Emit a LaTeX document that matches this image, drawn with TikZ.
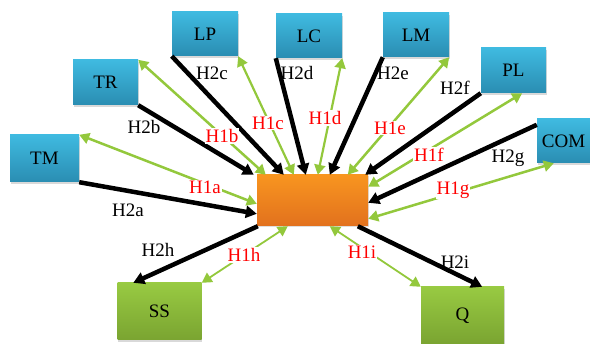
\documentclass[tikz,border=0pt]{standalone}
\usepackage{fontspec}
\setmainfont{Liberation Serif}
\usetikzlibrary{arrows.meta,shadows}

\definecolor{blueT}{HTML}{3FBAE0}
\definecolor{blueB}{HTML}{2A8DB2}
\definecolor{greenT}{HTML}{98CA42}
\definecolor{greenB}{HTML}{7AA431}
\definecolor{orangeT}{HTML}{F8951F}
\definecolor{orangeB}{HTML}{E2711E}
\definecolor{arrgreen}{HTML}{93C83C}

\begin{document}
\begin{tikzpicture}[x=1pt, y=-1pt,
  every node/.style={font=\fontsize{19}{22}\selectfont},
  bluebox/.style={minimum width=66pt, minimum height=44pt, inner sep=0pt,
    top color=blueT, bottom color=blueB,
    drop shadow={shadow xshift=.5pt, shadow yshift=-2pt, opacity=.3}},
  greenbox/.style={minimum width=84pt, minimum height=57pt, inner sep=0pt,
    top color=greenT, bottom color=greenB,
    drop shadow={shadow xshift=.5pt, shadow yshift=-2pt, opacity=.3}},
  h2/.style={line width=4.5pt, black, -{Triangle[length=11pt,width=12pt]}},
  h1/.style={line width=2.5pt, arrgreen,
    {Triangle[length=10pt,width=11pt]}-{Triangle[length=10pt,width=11pt]}},
  lab/.style={inner sep=1pt},
  hlab/.style={inner sep=1pt, text=red, fill=white}]

  \useasboundingbox (0,0) rectangle (590,344);

  % 中央
  \node[minimum width=111pt, minimum height=51pt, inner sep=0pt,
    top color=orangeT, bottom color=orangeB,
    drop shadow={shadow xshift=.5pt, shadow yshift=-1.5pt, opacity=.25}] (X) at (312.5,200.5) {};

  % 上の箱
  \node[bluebox, minimum width=69pt, minimum height=47pt] (TM) at (44.5,158.5) {TM};
  \node[bluebox, minimum width=65pt, minimum height=45pt] (TR) at (105.5,82.5) {TR};
  \node[bluebox] (LP) at (205,34) {LP};
  \node[bluebox] (LC) at (309,36) {LC};
  \node[bluebox] (LM) at (416,35) {LM};
  \node[bluebox, minimum width=65pt, minimum height=45pt] (PL) at (513.5,70.5) {PL};
  \node[bluebox, minimum width=53pt] (COM) at (563.5,141) {COM};

  % 下の箱
  \node[greenbox] (SS) at (159.5,311.5) {SS};
  \node[greenbox, minimum width=83pt] (Q) at (462.5,315.5) {Q};

  % H1 (両矢印)
  \draw[h1] (TM.north east) -- ([yshift=-29pt]X.north west);
  \draw[h1] (TR.north east) -- ([xshift=9pt]X.north west);
  \draw[h1, line width=2.2pt] (LP.south east) -- ([xshift=37pt]X.north west);
  \draw[h1, line width=2.2pt] (LC.south east) -- ([xshift=61pt]X.north west);
  \draw[h1] (LM.south east) -- ([xshift=91pt]X.north west);
  \draw[h1] ([xshift=-24pt]PL.south east) -- ([yshift=-12pt]X.north east);
  \draw[h1] ([xshift=17pt]COM.south west) -- ([yshift=-44pt]X.north east);
  \draw[h1, line width=1.8pt] ([xshift=31pt]X.south west) -- (SS.north east);
  \draw[h1, line width=1.8pt] ([xshift=73pt]X.south west) -- (Q.north west);

  % H2 (黒矢印)
  \draw[h2] (TM.south east) -- ([yshift=-39pt]X.north west);
  \draw[h2] (TR.south east) -- ([xshift=-3pt]X.north west);
  \draw[h2] (LP.south west) -- ([xshift=27pt]X.north west);
  \draw[h2] (LC.south west) -- ([xshift=49pt]X.north west);
  \draw[h2] (LM.south west) -- ([xshift=73pt]X.north west);
  \draw[h2] (PL.south west) -- ([xshift=-3pt]X.north east);
  \draw[h2] ([yshift=-6pt]COM.north west) -- ([yshift=-28pt]X.north east);
  \draw[h2] ([xshift=1pt]X.south west) -- ([xshift=16pt]SS.north west);
  \draw[h2] ([xshift=101pt]X.south west) -- ([xshift=-22pt]Q.north east);

  % ラベル
  \node[hlab] (H1a) at (205,187) {H1a};
  \node[hlab] (H1b) at (222,136) {H1b};
  \node[hlab] (H1c) at (268,123) {H1c};
  \node[hlab] (H1d) at (325,118) {H1d};
  \node[hlab] (H1e) at (390,128) {H1e};
  \node[hlab] (H1f) at (429,155) {H1f};
  \node[hlab] (H1g) at (453,190) {H1g};
  \node[hlab] (H1h) at (244,255) {H1h};
  \node[hlab] (H1i) at (362,252) {H1i};

  \node[lab] (H2a) at (128,210) {H2a};
  \node[lab] (H2b) at (144,127) {H2b};
  \node[lab] (H2c) at (212,73) {H2c};
  \node[lab] (H2d) at (297,73) {H2d};
  \node[lab] (H2e) at (393,73) {H2e};
  \node[lab] (H2f) at (455,88) {H2f};
  \node[lab] (H2g) at (508,158) {H2g};
  \node[lab] (H2h) at (158,250) {H2h};
  \node[lab] (H2i) at (455,262) {H2i};

\end{tikzpicture}
\end{document}
